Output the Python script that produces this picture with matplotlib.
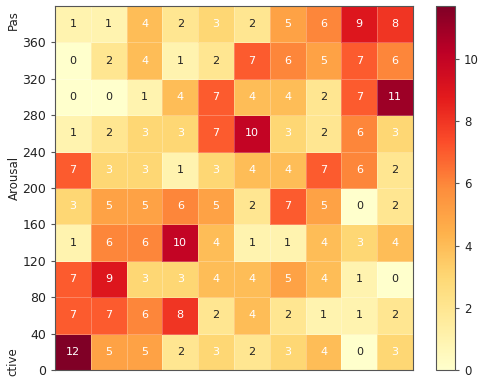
import numpy as np
import matplotlib
matplotlib.use("Agg")
import matplotlib.pyplot as plt

# rows listed from top (y 360-400) to bottom (y 0-40)
row_360 = [1, 1, 4, 2, 3, 2, 5, 6, 9, 8]
row_320 = [0, 2, 4, 1, 2, 7, 6, 5, 7, 6]
row_280 = [0, 0, 1, 4, 7, 4, 4, 2, 7, 11]
row_240 = [1, 2, 3, 3, 7, 10, 3, 2, 6, 3]
row_200 = [7, 3, 3, 1, 3, 4, 4, 7, 6, 2]
row_160 = [3, 5, 5, 6, 5, 2, 7, 5, 0, 2]
row_120 = [1, 6, 6, 10, 4, 1, 1, 4, 3, 4]
row_080 = [7, 9, 3, 3, 4, 4, 5, 4, 1, 0]
row_040 = [7, 7, 6, 8, 2, 4, 2, 1, 1, 2]
row_000 = [12, 5, 5, 2, 3, 2, 3, 4, 0, 3]

y_ticks = [0, 40, 80, 120, 160, 200, 240, 280, 320, 360]
y_edges = [0, 40, 80, 120, 160, 200, 240, 280, 320, 360, 400]
x_edges = list(range(11))
cbar_ticks = [0, 2, 4, 6, 8, 10]

data = np.array([row_000, row_040, row_080, row_120, row_160,
                 row_200, row_240, row_280, row_320, row_360], dtype=float)

fig = plt.figure(figsize=(5.02, 3.84), dpi=100)
ax = fig.add_axes([55/502, 1 - 370/384, (413-55)/502, (370-6)/384])
cax = fig.add_axes([436/502, 1 - 370/384, 19/502, (370-6)/384])

mesh = ax.pcolormesh(x_edges, y_edges, data, cmap="YlOrRd", vmin=0, vmax=11.7,
                     edgecolors=(1, 1, 1, 0.25), linewidth=0.4)
ax.set_xlim(0, 10)
ax.set_ylim(0, 400)
ax.set_xticks([])
ax.set_yticks(y_ticks)
ax.tick_params(axis="y", labelsize=9, length=3, color="#555555", labelcolor="#222222")
for s in ax.spines.values():
    s.set_color("#555555")
    s.set_linewidth(0.8)

xc = np.arange(10) + 0.5
yc = np.array(y_edges[:-1]) + 20
for i in range(10):
    for j in range(10):
        v = data[i, j]
        ax.text(xc[j], yc[i], f"{v:.0f}", ha="center", va="center", fontsize=8,
                color="#222222" if v <= 2 else "white")

cb = fig.colorbar(mesh, cax=cax)
cb.set_ticks(cbar_ticks)
cb.ax.tick_params(labelsize=8.5, length=3, color="#555555", labelcolor="#222222")
cb.outline.set_edgecolor("#555555")
cb.outline.set_linewidth(0.8)

fig.text(14/502, 1 - 178/384, "Arousal", rotation=90, ha="center", va="center",
         fontsize=8.5, color="#222222")
fig.text(13/502, 1 - 20/384, "Pas", rotation=90, ha="center", va="center",
         fontsize=8.5, color="#222222")
fig.text(13/502, 1 - 362/384, "ctive", rotation=90, ha="center", va="center",
         fontsize=8.5, color="#222222")

fig.savefig("out.png", dpi=100)
